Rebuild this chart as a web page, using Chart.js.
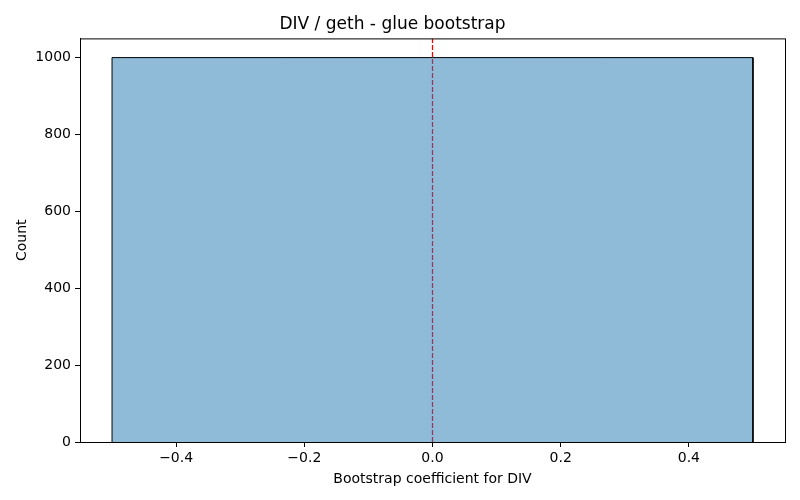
<!DOCTYPE html>
<html>
<head>
<meta charset="utf-8">
<script src="https://cdn.jsdelivr.net/npm/chart.js@4/dist/chart.umd.min.js"></script>
<style>
    html, body { margin: 0; padding: 0; background: #fff; }
    #wrap { width: 800px; height: 500px; }
</style>
</head>
<body>
<div id="wrap"><canvas id="hist"></canvas></div>
<script>
'use strict';

// histogram bins (edges) and counts
const binEdges = [-0.5, 0.5];
const binCounts = [1000];
const refLine = 0;
const xTicks = [-0.4, -0.2, 0.0, 0.2, 0.4];
const yTicks = [0, 200, 400, 600, 800, 1000];

// outline of the histogram as a step path
let histPoints = [];
for (let i = 0; i < binCounts.length; i++) {
    histPoints.push({x: binEdges[i], y: 0});
    histPoints.push({x: binEdges[i], y: binCounts[i]});
    histPoints.push({x: binEdges[i + 1], y: binCounts[i]});
    histPoints.push({x: binEdges[i + 1], y: 0});
}

const maxCount = Math.max(...binCounts);
const xSpan = binEdges[binEdges.length - 1] - binEdges[0];

const frame = {
    id: 'frame',
    afterDraw(chart) {
        const a = chart.chartArea;
        const ctx = chart.ctx;
        ctx.save();
        ctx.strokeStyle = '#000';
        ctx.lineWidth = 1;
        ctx.strokeRect(a.left + 0.5, a.top + 0.5, a.right - a.left, a.bottom - a.top);
        ctx.restore();
    },
};

const fmt = v => v.toFixed(1).replace('-', '\u2212');

Chart.defaults.font.family = 'DejaVu Sans';
Chart.defaults.color = '#000';

new Chart(document.getElementById('hist'), {
    type: 'line',
    data: {
        datasets: [
            {
                data: histPoints,
                backgroundColor: 'rgba(31,119,180,0.5)',
                borderColor: '#000',
                borderWidth: 1,
                fill: 'origin',
                pointRadius: 0,
                tension: 0,
            },
            {
                data: [{x: refLine, y: 0}, {x: refLine, y: maxCount * 1.05}],
                borderColor: 'red',
                borderWidth: 1.3,
                borderDash: [5, 2],
                pointRadius: 0,
                fill: false,
            }],
    },
    options: {
        responsive: true,
        maintainAspectRatio: false,
        animation: false,
        layout: {padding: {left: 0, right: 15, top: 0, bottom: 0}},
        plugins: {
            legend: {display: false},
            tooltip: {enabled: false},
            title: {
                display: true,
                text: 'DIV / geth - glue bootstrap',
                font: {size: 17, weight: 'normal'},
                color: '#000',
                padding: {top: 14, bottom: 4},
            },
        },
        scales: {
            x: {
                type: 'linear',
                min: binEdges[0] - xSpan * 0.05,
                max: binEdges[binEdges.length - 1] + xSpan * 0.05,
                afterBuildTicks: s => { s.ticks = xTicks.map(v => ({value: v})); },
                afterFit: s => { s.height = 58; },
                ticks: {callback: v => fmt(v), font: {size: 14}, padding: 3, maxRotation: 0},
                grid: {display: true, drawOnChartArea: false, drawTicks: true, tickLength: 5, color: '#000'},
                border: {color: '#000'},
                title: {display: true, text: 'Bootstrap coefficient for DIV', font: {size: 14}, padding: {top: 4, bottom: 12}},
            },
            y: {
                min: 0,
                max: maxCount * 1.05,
                afterBuildTicks: s => { s.ticks = yTicks.map(v => ({value: v})); },
                afterFit: s => { s.width = 80; },
                ticks: {callback: v => String(v), font: {size: 14}, padding: 4},
                grid: {display: true, drawOnChartArea: false, drawTicks: true, tickLength: 5, color: '#000'},
                border: {color: '#000'},
                title: {display: true, text: 'Count', font: {size: 14}, padding: {top: 14, bottom: 4}},
            },
        },
    },
    plugins: [frame],
});
</script>
</body>
</html>
